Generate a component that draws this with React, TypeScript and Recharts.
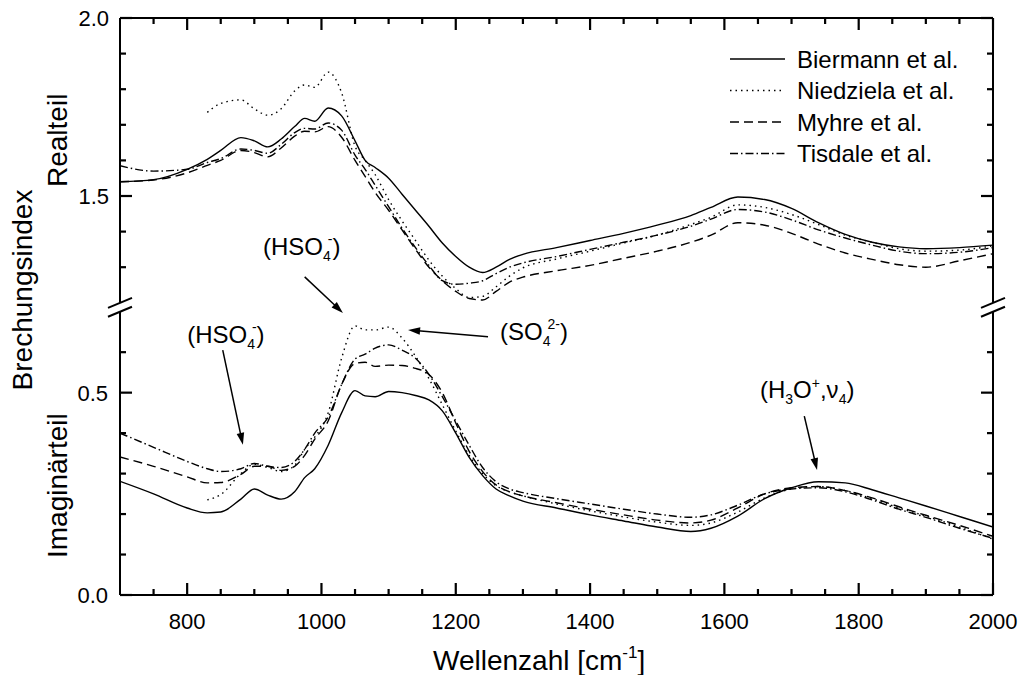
import React from 'react';
import { LineChart, Line, XAxis, YAxis, ReferenceLine, ReferenceDot, Legend } from 'recharts';

const FONT = '"Liberation Sans", Arial, Helvetica, sans-serif';

// ---------- data ----------
const wavenumbers = [700, 750, 800, 830, 850, 880, 900, 920, 940, 960, 975, 990, 1010, 1030, 1050, 1065, 1080, 1100, 1120, 1140, 1160, 1180, 1200, 1220, 1240, 1260, 1280, 1300, 1350, 1400, 1450, 1500, 1550, 1580, 1620, 1660, 1700, 1740, 1780, 1820, 1860, 1900, 1950, 2000];

// Realteil (refractive index, real part)
const biermannRe = [1.540, 1.546, 1.575, 1.603, 1.628, 1.664, 1.655, 1.638, 1.660, 1.695, 1.718, 1.710, 1.747, 1.725, 1.655, 1.600, 1.580, 1.550, 1.505, 1.460, 1.415, 1.368, 1.330, 1.300, 1.285, 1.300, 1.322, 1.336, 1.355, 1.375, 1.395, 1.418, 1.445, 1.468, 1.497, 1.490, 1.465, 1.425, 1.392, 1.370, 1.357, 1.352, 1.355, 1.362];
const niedzielaRe = [null, null, null, 1.735, 1.760, 1.770, 1.745, 1.727, 1.745, 1.795, 1.812, 1.805, 1.848, 1.790, 1.640, 1.600, 1.560, 1.490, 1.430, 1.375, 1.320, 1.275, 1.240, 1.215, 1.218, 1.245, 1.275, 1.298, 1.323, 1.345, 1.368, 1.390, 1.420, 1.440, 1.475, 1.468, 1.448, 1.420, 1.390, 1.370, 1.352, 1.345, 1.348, 1.360];
const myhreRe = [1.540, 1.545, 1.565, 1.586, 1.600, 1.628, 1.622, 1.610, 1.635, 1.668, 1.682, 1.680, 1.695, 1.665, 1.600, 1.555, 1.510, 1.460, 1.405, 1.350, 1.300, 1.262, 1.232, 1.212, 1.208, 1.232, 1.258, 1.272, 1.290, 1.305, 1.325, 1.345, 1.370, 1.390, 1.425, 1.418, 1.395, 1.365, 1.340, 1.322, 1.307, 1.300, 1.318, 1.338];
const tisdaleRe = [1.585, 1.570, 1.575, 1.594, 1.605, 1.632, 1.628, 1.620, 1.645, 1.678, 1.690, 1.688, 1.705, 1.685, 1.615, 1.575, 1.530, 1.470, 1.410, 1.355, 1.305, 1.262, 1.252, 1.255, 1.262, 1.282, 1.300, 1.312, 1.330, 1.350, 1.370, 1.390, 1.415, 1.435, 1.462, 1.455, 1.433, 1.405, 1.382, 1.362, 1.345, 1.338, 1.342, 1.355];

// Imaginärteil (imaginary part)
const biermannIm = [0.281, 0.250, 0.215, 0.203, 0.205, 0.237, 0.262, 0.247, 0.237, 0.255, 0.290, 0.312, 0.370, 0.450, 0.505, 0.492, 0.490, 0.503, 0.500, 0.493, 0.482, 0.455, 0.400, 0.340, 0.295, 0.262, 0.245, 0.232, 0.215, 0.198, 0.183, 0.168, 0.157, 0.165, 0.195, 0.238, 0.265, 0.280, 0.277, 0.260, 0.240, 0.220, 0.194, 0.168];
const niedzielaIm = [null, null, null, 0.235, 0.248, 0.300, 0.323, 0.315, 0.305, 0.320, 0.360, 0.390, 0.450, 0.585, 0.665, 0.655, 0.655, 0.662, 0.635, 0.590, 0.535, 0.470, 0.405, 0.345, 0.300, 0.270, 0.255, 0.245, 0.225, 0.208, 0.193, 0.180, 0.172, 0.178, 0.205, 0.240, 0.262, 0.268, 0.258, 0.238, 0.215, 0.195, 0.168, 0.138];
const myhreIm = [0.341, 0.318, 0.292, 0.277, 0.278, 0.298, 0.318, 0.318, 0.308, 0.318, 0.345, 0.385, 0.430, 0.520, 0.572, 0.575, 0.565, 0.568, 0.567, 0.560, 0.545, 0.500, 0.425, 0.355, 0.305, 0.272, 0.255, 0.245, 0.228, 0.212, 0.198, 0.185, 0.178, 0.185, 0.215, 0.250, 0.265, 0.268, 0.258, 0.240, 0.218, 0.197, 0.172, 0.145];
const tisdaleIm = [0.400, 0.365, 0.330, 0.312, 0.305, 0.312, 0.325, 0.318, 0.315, 0.330, 0.360, 0.400, 0.440, 0.520, 0.583, 0.595, 0.610, 0.618, 0.605, 0.585, 0.545, 0.490, 0.430, 0.370, 0.315, 0.280, 0.262, 0.253, 0.238, 0.225, 0.212, 0.200, 0.192, 0.198, 0.222, 0.250, 0.262, 0.265, 0.255, 0.235, 0.212, 0.192, 0.165, 0.140];

const seriesNames = ['Biermann et al.', 'Niedziela et al.', 'Myhre et al.', 'Tisdale et al.'];

const xTicks = [750, 800, 850, 900, 950, 1000, 1050, 1100, 1150, 1200, 1250, 1300, 1350, 1400, 1450, 1500, 1550, 1600, 1650, 1700, 1750, 1800, 1850, 1900, 1950, 2000];
const xLabelTicks = [800, 1000, 1200, 1400, 1600, 1800, 2000];
const reTicks = [1.3, 1.4, 1.5, 1.6, 1.7, 1.8, 1.9, 2.0];
const reLabelTicks = [1.5, 2.0];
const imTicks = [0, 0.1, 0.2, 0.3, 0.4, 0.5, 0.6];
const imLabelTicks = [0, 0.5];

// axis break positions (data units)
const reBreak = 1.2;
const imBreak = 0.7;

// annotations (wavenumber, imaginary-axis units)
const annotationTexts = [
  { id: 'hso4a', x: 913, y: 0.840 },
  { id: 'hso4b', x: 800, y: 0.623 },
  { id: 'so4', x: 1266, y: 0.630 },
  { id: 'h3o', x: 1653, y: 0.487 },
];
const annotationArrows = [
  { from: { x: 975, y: 0.786 }, to: { x: 1032, y: 0.697 } },
  { from: { x: 853, y: 0.605 }, to: { x: 883, y: 0.371 } },
  { from: { x: 1248, y: 0.638 }, to: { x: 1129, y: 0.655 } },
  { from: { x: 1719, y: 0.442 }, to: { x: 1738, y: 0.309 } },
];

// ---------- layout / styles ----------
const W = 1021;
const H = 675;
const RE_MIN = 2.0 - 577 / 356;
const IM_MAX = 577 / 404.7;
const dashes = [undefined, '1.5 4', '9 5', '8 3 1.5 3'];
const MAJOR = 12;
const MINOR = 6;
const TW = 2.2;

const toPoints = (vals: (number | null)[]) =>
  wavenumbers.map((x, i) => ({ x, y: vals[i] })).filter((p) => p.y !== null && p.y !== undefined);

const reSeries = [biermannRe, niedzielaRe, myhreRe, tisdaleRe].map(toPoints);
const imSeries = [biermannIm, niedzielaIm, myhreIm, tisdaleIm].map(toPoints);

const near = (a: number, list: number[]) => list.some((b) => Math.abs(Number(a) - b) < 1e-6);

const BottomTick = (p: any) => {
  const x = Number(p.x), y = Number(p.y);
  const v = p.payload.value;
  const major = near(v, xLabelTicks);
  const len = major ? MAJOR : MINOR;
  return (
    <g>
      <rect x={x - TW / 2} y={y - len} width={TW} height={len} fill="#000" stroke="none" />
      {major && (
        <text x={x} y={y + 34} textAnchor="middle" fontSize={22} fontFamily={FONT} fill="#000">
          {v}
        </text>
      )}
    </g>
  );
};

const makeLeftLabel = (labels: number[]) => (p: any) => {
  const x = Number(p.x), y = Number(p.y);
  if (!near(p.payload.value, labels)) return <g />;
  return (
    <text x={x - 12} y={y + 8} textAnchor="end" fontSize={22} fontFamily={FONT} fill="#000">
      {Number(p.payload.value).toFixed(1)}
    </text>
  );
};

// tick mark shapes drawn at frame positions (filled bars)
const tickShape = (dir: 'right' | 'left' | 'down', len: number) => (p: any) => {
  const cx = Number(p.cx), cy = Number(p.cy);
  if (dir === 'right') return <rect x={cx} y={cy - TW / 2} width={len} height={TW} fill="#000" stroke="none" />;
  if (dir === 'left') return <rect x={cx - len} y={cy - TW / 2} width={len} height={TW} fill="#000" stroke="none" />;
  return <rect x={cx - TW / 2} y={cy} width={TW} height={len} fill="#000" stroke="none" />;
};

const BreakMark = (p: any) => (
  <line x1={p.cx - 12} y1={p.cy + 5} x2={p.cx + 12} y2={p.cy - 5} stroke="#000" strokeWidth={2} />
);

const Arrow = (p: any) => {
  const x1 = Number(p.x1), y1 = Number(p.y1), x2 = Number(p.x2), y2 = Number(p.y2);
  const dx = x2 - x1, dy = y2 - y1;
  const L = Math.hypot(dx, dy) || 1;
  const ux = dx / L, uy = dy / L;
  const hl = 12, hw = 3.8;
  const bx = x2 - ux * hl, by = y2 - uy * hl;
  return (
    <g>
      <line x1={x1} y1={y1} x2={bx + ux * 2} y2={by + uy * 2} stroke="#000" strokeWidth={1.5} />
      <polygon points={`${x2},${y2} ${bx - uy * hw},${by + ux * hw} ${bx + uy * hw},${by - ux * hw}`} fill="#000" />
    </g>
  );
};

const AnnText = (id: string) => (p: any) => {
  const { cx, cy } = p;
  const common = { x: cx, y: cy, fontSize: 24, fontFamily: FONT, fill: '#000' } as any;
  const s = 14;
  if (id === 'hso4a' || id === 'hso4b') {
    return (
      <text {...common}>
        (HSO<tspan fontSize={s} dy={6}>4</tspan>
        <tspan fontSize={s} dy={-17} dx={-3}>-</tspan>
        <tspan dy={11}>)</tspan>
      </text>
    );
  }
  if (id === 'so4') {
    return (
      <text {...common}>
        (SO<tspan fontSize={s} dy={6}>4</tspan>
        <tspan fontSize={s} dy={-17} dx={-3}>2-</tspan>
        <tspan dy={11}>)</tspan>
      </text>
    );
  }
  return (
    <text {...common}>
      (H<tspan fontSize={s} dy={6}>3</tspan>
      <tspan dy={-6}>O</tspan>
      <tspan fontSize={s} dy={-10}>+</tspan>
      <tspan dy={10}>,ν</tspan>
      <tspan fontSize={s} dy={6}>4</tspan>
      <tspan dy={-6}>)</tspan>
    </text>
  );
};

const YTitles = () => (
  <g fontFamily={FONT} fill="#000" fontSize={28}>
    <text transform="translate(32, 290) rotate(-90)" textAnchor="middle">Brechungsindex</text>
    <text transform="translate(67, 187) rotate(-90)" textAnchor="start">Realteil</text>
    <text transform="translate(67, 558) rotate(-90)" textAnchor="start">Imaginärteil</text>
  </g>
);

const XTitle = () => (
  <text x={433} y={670} fontSize={28} fontFamily={FONT} fill="#000">
    Wellenzahl [cm<tspan fontSize={17} dy={-12}>-1</tspan>
    <tspan dy={12}>]</tspan>
  </text>
);

const LegendBox = () => (
  <svg width={280} height={140} style={{ display: 'block' }}>
    {seriesNames.map((n, i) => {
      const cy = 19 + i * 31.5;
      return (
        <g key={n}>
          <line x1={10} x2={65} y1={cy} y2={cy} stroke="#000" strokeWidth={1.4} strokeDasharray={dashes[i]} />
          <text x={77} y={cy + 8.5} fontSize={24} fontFamily={FONT} fill="#000">{n}</text>
        </g>
      );
    })}
  </svg>
);

export default function App() {
  return (
    <div style={{ position: 'fixed', left: 0, top: 0, width: W, height: H, background: '#fff' }}>
      <LineChart width={W} height={H} margin={{ top: 18, right: 28, bottom: 0, left: 120 }}>
        <XAxis xAxisId="b" type="number" dataKey="x" domain={[700, 2000]} ticks={xTicks} interval={0}
          axisLine={false} tickLine={false} tickSize={0} tickMargin={0} height={80} allowDataOverflow
          tick={BottomTick} label={XTitle} />
        <YAxis yAxisId="re" orientation="left" mirror type="number" domain={[RE_MIN, 2.0]} ticks={reTicks} interval={0}
          axisLine={false} tickLine={false} tickSize={0} tickMargin={0} width={1} allowDataOverflow
          tick={makeLeftLabel(reLabelTicks)} label={YTitles} />
        <YAxis yAxisId="im" orientation="left" mirror type="number" domain={[0, IM_MAX]} ticks={imTicks} interval={0}
          axisLine={false} tickLine={false} tickSize={0} tickMargin={0} width={1} allowDataOverflow
          tick={makeLeftLabel(imLabelTicks)} />

        {/* frame with axis breaks */}
        <ReferenceLine xAxisId="b" yAxisId="re" y={2.0} stroke="#000" strokeWidth={2} ifOverflow="visible" />
        <ReferenceLine xAxisId="b" yAxisId="im" y={0} stroke="#000" strokeWidth={2} ifOverflow="visible" />
        <ReferenceLine xAxisId="b" yAxisId="re" segment={[{ x: 700, y: 2.0 }, { x: 700, y: reBreak }]} stroke="#000" strokeWidth={2} ifOverflow="visible" />
        <ReferenceLine xAxisId="b" yAxisId="im" segment={[{ x: 700, y: imBreak }, { x: 700, y: 0 }]} stroke="#000" strokeWidth={2} ifOverflow="visible" />
        <ReferenceLine xAxisId="b" yAxisId="re" segment={[{ x: 2000, y: 2.0 }, { x: 2000, y: reBreak }]} stroke="#000" strokeWidth={2} ifOverflow="visible" />
        <ReferenceLine xAxisId="b" yAxisId="im" segment={[{ x: 2000, y: imBreak }, { x: 2000, y: 0 }]} stroke="#000" strokeWidth={2} ifOverflow="visible" />
        <ReferenceDot xAxisId="b" yAxisId="re" x={700} y={reBreak} r={1} ifOverflow="visible" shape={BreakMark} />
        <ReferenceDot xAxisId="b" yAxisId="im" x={700} y={imBreak} r={1} ifOverflow="visible" shape={BreakMark} />
        <ReferenceDot xAxisId="b" yAxisId="re" x={2000} y={reBreak} r={1} ifOverflow="visible" shape={BreakMark} />
        <ReferenceDot xAxisId="b" yAxisId="im" x={2000} y={imBreak} r={1} ifOverflow="visible" shape={BreakMark} />

        {/* inward tick marks: left, right, top */}
        {reTicks.map((v) => (
          <ReferenceDot key={'lre' + v} xAxisId="b" yAxisId="re" x={700} y={v} r={1} ifOverflow="visible"
            shape={tickShape('right', near(v, reLabelTicks) ? MAJOR : MINOR)} />
        ))}
        {imTicks.map((v) => (
          <ReferenceDot key={'lim' + v} xAxisId="b" yAxisId="im" x={700} y={v} r={1} ifOverflow="visible"
            shape={tickShape('right', near(v, imLabelTicks) ? MAJOR : MINOR)} />
        ))}
        {reTicks.map((v) => (
          <ReferenceDot key={'rre' + v} xAxisId="b" yAxisId="re" x={2000} y={v} r={1} ifOverflow="visible"
            shape={tickShape('left', near(v, reLabelTicks) ? MAJOR : MINOR)} />
        ))}
        {imTicks.map((v) => (
          <ReferenceDot key={'rim' + v} xAxisId="b" yAxisId="im" x={2000} y={v} r={1} ifOverflow="visible"
            shape={tickShape('left', near(v, imLabelTicks) ? MAJOR : MINOR)} />
        ))}
        {xTicks.map((v) => (
          <ReferenceDot key={'top' + v} xAxisId="b" yAxisId="re" x={v} y={2.0} r={1} ifOverflow="visible"
            shape={tickShape('down', near(v, xLabelTicks) ? MAJOR : MINOR)} />
        ))}

        {reSeries.map((d, i) => (
          <Line key={'re' + i} xAxisId="b" yAxisId="re" data={d} dataKey="y" type="monotone" stroke="#000"
            strokeWidth={1.4} strokeDasharray={dashes[i]} dot={false} activeDot={false} isAnimationActive={false}
            name={seriesNames[i]} />
        ))}
        {imSeries.map((d, i) => (
          <Line key={'im' + i} xAxisId="b" yAxisId="im" data={d} dataKey="y" type="monotone" stroke="#000"
            strokeWidth={1.4} strokeDasharray={dashes[i]} dot={false} activeDot={false} isAnimationActive={false}
            name={seriesNames[i] + ' '} legendType="none" />
        ))}

        {annotationArrows.map((a, i) => (
          <ReferenceLine key={'arr' + i} xAxisId="b" yAxisId="im" segment={[a.from, a.to]} ifOverflow="visible" shape={Arrow} />
        ))}
        {annotationTexts.map((t) => (
          <ReferenceDot key={t.id} xAxisId="b" yAxisId="im" x={t.x} y={t.y} r={1} ifOverflow="visible" shape={AnnText(t.id)} />
        ))}

        <Legend layout="horizontal" verticalAlign="middle" align="center"
          wrapperStyle={{ position: 'absolute', left: 720, top: 40, width: 280, height: 140 }}
          content={() => <LegendBox />} />
      </LineChart>
    </div>
  );
}
